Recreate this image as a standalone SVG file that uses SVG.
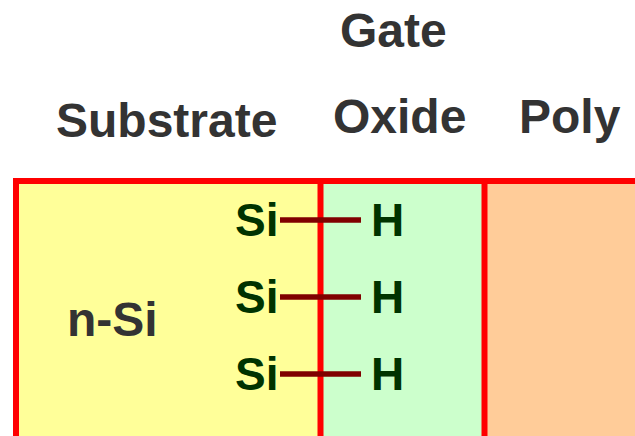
<svg xmlns="http://www.w3.org/2000/svg" width="635" height="436" viewBox="0 0 635 436">
  <style>
    .lbl { font-family: "Liberation Sans", Arial, sans-serif; font-weight: bold; font-size: 48px; fill: #333333; }
    .atom { font-family: "Liberation Sans", Arial, sans-serif; font-weight: bold; font-size: 46px; fill: #003300; }
    .edge { stroke: #ff0000; stroke-width: 6; fill: none; }
    .bond { stroke: #800000; stroke-width: 5.5; }
  </style>
  <rect width="635" height="436" fill="#ffffff"/>

  <!-- Region labels -->
  <text class="lbl" x="56" y="137">Substrate</text>
  <text class="lbl" x="340" y="47">Gate</text>
  <text class="lbl" x="333" y="133">Oxide</text>
  <text class="lbl" x="519" y="133">Poly</text>

  <!-- Layers -->
  <g id="substrate">
    <rect x="16" y="181" width="304.5" height="260" fill="#ffff99"/>
    <text class="lbl" x="67" y="336">n-Si</text>
  </g>
  <g id="oxide">
    <rect x="320.5" y="181" width="164" height="260" fill="#ccffcc"/>
  </g>
  <g id="poly">
    <rect x="484.5" y="181" width="160" height="260" fill="#ffcc99"/>
  </g>

  <!-- Layer boundaries -->
  <g id="boundaries">
    <path class="edge" d="M16 441 V181 H645 M320.5 181 V441 M484.5 181 V441"/>
  </g>

  <!-- Si–H bonds -->
  <g id="bonds">
    <line class="bond" x1="280" y1="220" x2="361" y2="220"/>
    <line class="bond" x1="280" y1="297" x2="361" y2="297"/>
    <line class="bond" x1="280" y1="374" x2="361" y2="374"/>
  </g>

  <g id="si-1"><text class="atom" x="235" y="236">Si</text></g>
  <g id="si-2"><text class="atom" x="235" y="313">Si</text></g>
  <g id="si-3"><text class="atom" x="235" y="390">Si</text></g>
  <g id="h-1"><text class="atom" x="371" y="236">H</text></g>
  <g id="h-2"><text class="atom" x="371" y="313">H</text></g>
  <g id="h-3"><text class="atom" x="371" y="390">H</text></g>
</svg>
